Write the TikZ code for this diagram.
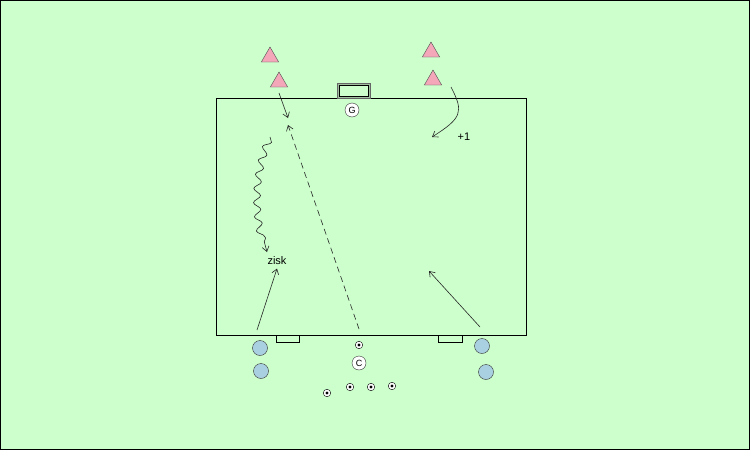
\documentclass[tikz,border=0pt]{standalone}
\usepackage{fontspec}
\setmainfont{Liberation Sans}
\usepackage{tikz}
\usetikzlibrary{positioning,arrows.meta,shapes.geometric,calc,decorations.pathmorphing}

\definecolor{pitch}{HTML}{CCFFCC}
\definecolor{cone}{HTML}{F4A7B9}
\definecolor{blueplayer}{HTML}{A8D0E0}
\definecolor{goalframe}{HTML}{9FBF9F}

\tikzset{
  conemark/.style={regular polygon, regular polygon sides=3, draw=black!70, fill=cone, minimum size=20pt, inner sep=0pt},
  blueman/.style={circle, draw=black!80, fill=blueplayer, minimum size=15pt, inner sep=0pt},
  letterman/.style={circle, draw=black!80, fill=white, minimum size=14pt, inner sep=0pt, font=\fontsize{9}{9}\selectfont},
  ballmark/.style={circle, draw=black, fill=white, minimum size=7.5pt, inner sep=0pt, path picture={\fill[black] (path picture bounding box.center) circle (1.6pt);}},
  runarrow/.style={-{Straight Barb[length=5pt,width=7pt]}, black!85, semithick}
}

\begin{document}
\begin{tikzpicture}[x=1pt,y=-1pt]

% Background
\fill[pitch] (0,0) rectangle (750,450);
\draw[black] (0.5,0.5) rectangle (749.5,449.5);

% Field
\draw[black] (216,98) rectangle (526,335);

% Goals
\draw[black!60, fill=goalframe] (337,83) rectangle (370,98);
\draw[black, fill=pitch] (339,85.5) rectangle (368,96);
\draw[black, thick] (276,335) -- (276,342) -- (299,342) -- (299,335);
\draw[black, thick] (438,335) -- (438,342) -- (462,342) -- (462,335);

% Cones
\node[conemark] (c1) at (270,57) {};
\node[conemark] (c2) at (279,82) {};
\node[conemark] (c3) at (431,52) {};
\node[conemark] (c4) at (433,80) {};

% Players
\node[letterman] (g) at (352,110) {G};
\node[letterman] (c) at (359,363) {C};
\node[blueman] (b1) at (260,348) {};
\node[blueman] (b2) at (261,371) {};
\node[blueman] (b3) at (482,346) {};
\node[blueman] (b4) at (486,372) {};

% Balls
\foreach \x/\y [count=\i] in {359/345, 327/393, 350/387, 371/387, 392/386} {
  \node[ballmark] (ball\i) at (\x,\y) {};
}

% Labels
\node[font=\fontsize{11}{11}\selectfont] (zisk) at (277,261) {zisk};
\node[font=\fontsize{11}{11}\selectfont] (plus) at (464,137) {+1};

% Movement
\coordinate (s1) at (279,93);
\coordinate (e1) at (288,118);
\coordinate (s2) at (359,329);
\coordinate (e2) at (288,125);
\coordinate (s3) at (270,137);
\coordinate (e3) at (267,252);
\coordinate (s4) at (257,330);
\coordinate (s5) at (451,87);
\coordinate (e5) at (432,137);
\coordinate (s6) at (480,327);
\coordinate (e6) at (429,271);

\draw[runarrow] (s1) -- (e1);
\draw[runarrow, dash pattern=on 6pt off 4pt] (s2) -- (e2);
\draw[runarrow, decorate, decoration={snake, amplitude=3.5pt, segment length=14pt, post length=8pt}] (s3) .. controls (252,180) and (258,220) .. (e3);
\draw[runarrow] (s4) -- (zisk.south);
\draw[runarrow] (s5) .. controls (464,112) and (462,118) .. (e5);
\draw[runarrow] (s6) -- (e6);

\end{tikzpicture}
\end{document}
